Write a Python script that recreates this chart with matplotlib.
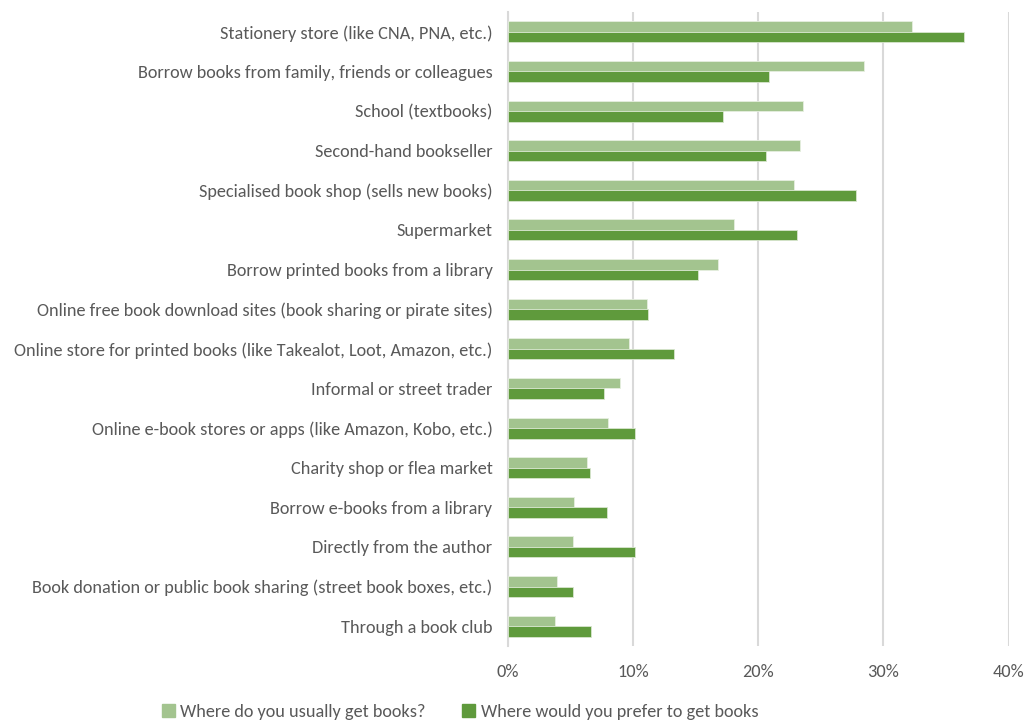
import matplotlib
matplotlib.use("Agg")
import matplotlib.pyplot as plt
from matplotlib.ticker import FuncFormatter
from matplotlib.patches import Patch
from matplotlib import font_manager as fm
import numpy as np

categories = [
    "Stationery store (like CNA, PNA, etc.)",
    "Borrow books from family, friends or colleagues",
    "School (textbooks)",
    "Second-hand bookseller",
    "Specialised book shop (sells new books)",
    "Supermarket",
    "Borrow printed books from a library",
    "Online free book download sites (book sharing or pirate sites)",
    "Online store for printed books (like Takealot, Loot, Amazon, etc.)",
    "Informal or street trader",
    "Online e-book stores or apps (like Amazon, Kobo, etc.)",
    "Charity shop or flea market",
    "Borrow e-books from a library",
    "Directly from the author",
    "Book donation or public book sharing (street book boxes, etc.)",
    "Through a book club",
]
usually = [32.3, 28.45, 23.6, 23.3, 22.85, 18.1, 16.8, 11.1, 9.65, 8.96, 8.0, 6.35, 5.33, 5.25, 3.9, 3.8]
prefer = [36.4, 20.9, 17.2, 20.6, 27.8, 23.1, 15.2, 11.2, 13.3, 7.7, 10.2, 6.55, 7.95, 10.15, 5.25, 6.65]
series_names = ["Where do you usually get books?", "Where would you prefer to get books"]
xticks = [0, 10, 20, 30, 40]

light = "#A3C48F"
dark = "#5F9A3C"
txt = "#595959"

available = {f.name for f in fm.fontManager.ttflist}
prefs = ["Carlito", "Calibri", "Liberation Sans Narrow", "Arial Narrow", "Roboto Condensed",
         "Open Sans Condensed", "PT Sans Narrow", "Archivo Narrow", "Encode Sans Condensed",
         "Fira Sans Condensed", "IBM Plex Sans Condensed", "Noto Sans Display", "Ubuntu Condensed",
         "Asap Condensed", "Barlow Semi Condensed", "Open Sans", "DejaVu Sans"]
fam = next(p for p in prefs if p in available)
plt.rcParams['font.family'] = [fam, 'DejaVu Sans']

fig = plt.figure(figsize=(10.35, 7.24), dpi=100)

# find font size so the longest label spans ~482 px
renderer = fig.canvas.get_renderer()
probe = fig.text(0, 0, categories[8], fontsize=10)
w10 = probe.get_window_extent(renderer).width
probe.remove()
fs = 10 * 482 / w10
fs = min(fs, 16)

ax = fig.add_axes([507.7/1035, 1 - 646/724, (1008.7 - 507.7)/1035, (646 - 12)/724])

n = len(categories)
y = np.arange(n)
h = 0.265
ax.barh(y - h/2, usually, height=h, color=light, edgecolor="#E6EFE0", linewidth=0.6, zorder=3)
ax.barh(y + h/2, prefer, height=h, color=dark, edgecolor="#D8E6CF", linewidth=0.6, zorder=3)

ax.set_ylim(n - 0.5, -0.5)
ax.set_xlim(0, 40)
ax.set_yticks(y)
ax.set_yticklabels(categories, fontsize=fs, color=txt)
ax.set_xticks(xticks)
ax.xaxis.set_major_formatter(FuncFormatter(lambda v, p: f"{int(v)}%"))
ax.tick_params(axis='x', labelsize=fs, colors=txt, length=0, pad=13)
ax.tick_params(axis='y', length=0, pad=11)
ax.grid(axis='x', color="#D9D9D9", linewidth=1.5, zorder=0)
ax.set_axisbelow(True)
for s in ["top", "right", "bottom"]:
    ax.spines[s].set_visible(False)
ax.spines["left"].set_color("#D9D9D9")
ax.spines["left"].set_linewidth(1.5)

handles = [Patch(color=light), Patch(color=dark)]
fig.legend(handles, series_names, loc="center", bbox_to_anchor=(460/1035, 1 - 712/724),
           ncol=2, frameon=False, fontsize=fs, labelcolor=txt,
           handlelength=0.7, handleheight=0.7, handletextpad=0.3, columnspacing=2.0)

fig.savefig("out.png", dpi=100)
